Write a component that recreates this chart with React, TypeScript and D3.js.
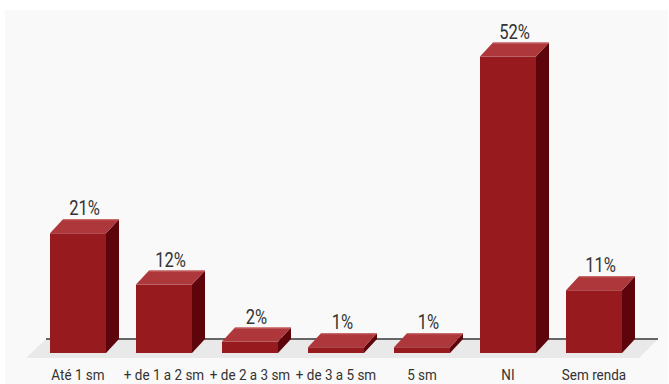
import React from "react";
import * as d3 from "d3";

const categories = ["Até 1 sm", "+ de 1 a 2 sm", "+ de 2 a 3 sm", "+ de 3 a 5 sm", "5 sm", "NI", "Sem renda"];
const values = [21, 12, 2, 1, 1, 52, 11];

const W = 669;
const H = 384;
const DX = 13;
const DY = 14;

export default function App() {
  const x = d3.scaleBand<string>().domain(categories).range([35, 637]).padding(0);
  const y = d3.scaleLinear().domain([0, 60]).range([353, 353 - 60 * 5.7]);
  const barPad = 15;
  const bw = x.bandwidth() - 2 * barPad;
  const base = y(0);

  const floorBack = base - DY;
  const floorFront = base + 5;

  return (
    <svg width={W} height={H} style={{ position: "absolute", left: 0, top: 0, fontFamily: "Roboto, sans-serif" }}>
      <rect x={0} y={0} width={W} height={H} fill="#ffffff" />
      <rect x={5} y={10} width={663} height={H - 10} fill="#f9f9f9" />
      <polygon
        points={`46,${floorBack} 658,${floorBack} 639,${floorFront} 26,${floorFront}`}
        fill="#e8e9e8"
      />
      <line x1={46} x2={658} y1={floorBack} y2={floorBack} stroke="#666666" strokeWidth={2} />
      {categories.map((c, i) => {
        const x0 = (x(c) as number) + barPad;
        const x1 = x0 + bw;
        const yt = y(values[i]);
        return (
          <g key={c}>
            <polygon
              points={`${x1},${yt} ${x1 + DX},${yt - DY} ${x1 + DX},${base - DY} ${x1},${base}`}
              fill="#5e050b"
            />
            <polygon
              points={`${x0},${yt} ${x0 + DX},${yt - DY} ${x1 + DX},${yt - DY} ${x1},${yt}`}
              fill="#ae373b"
            />
            <line x1={x0 + DX} x2={x1 + DX} y1={yt - DY + 0.5} y2={yt - DY + 0.5} stroke="#c86a6c" strokeWidth={1} />
            <rect x={x0} y={yt} width={bw} height={base - yt} fill="#971a1f" />
            <g transform={`translate(${x0 + bw / 2 + DX / 2},${yt - DY - 4}) scale(0.85,1)`}>
              <text x={0} y={0} textAnchor="middle" fontSize={19.5} fill="#333333">
                {values[i]}%
              </text>
            </g>
            <g transform={`translate(${(x(c) as number) + x.bandwidth() / 2},380) scale(0.87,1)`}>
              <text x={0} y={0} textAnchor="middle" fontSize={15.5} fill="#333333">
                {c}
              </text>
            </g>
          </g>
        );
      })}
    </svg>
  );
}
